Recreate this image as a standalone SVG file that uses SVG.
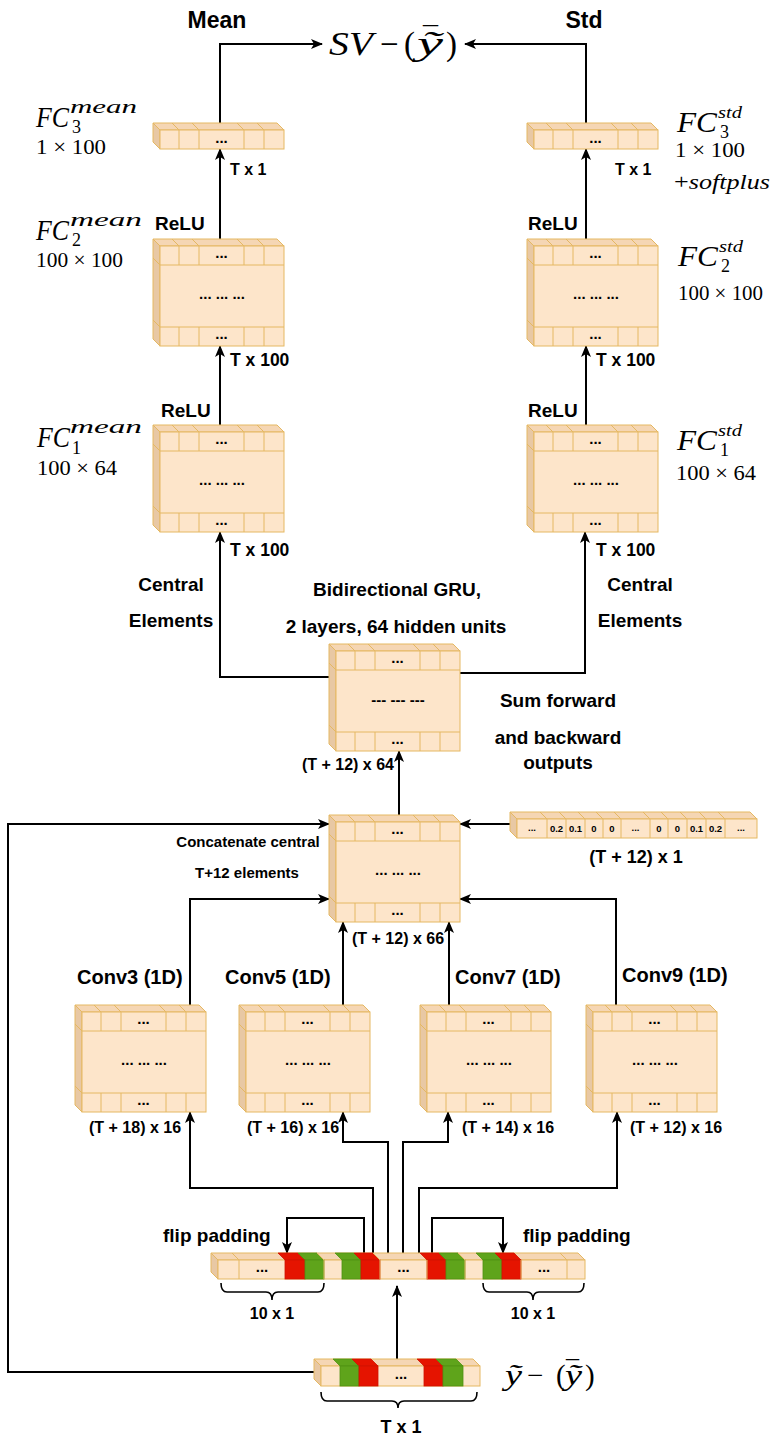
<svg xmlns="http://www.w3.org/2000/svg" width="770" height="1438" viewBox="0 0 770 1438">
<style>
  .t { font-family: "Liberation Sans", Arial, sans-serif; font-weight: 700; fill: #000; }
  .s23 { font-size: 23px; }
  .s19 { font-size: 19px; }
  .s17 { font-size: 17.5px; }
  .s16 { font-size: 16px; }
  .s15 { font-size: 15px; }
  .s18 { font-size: 18px; }
  .s20 { font-size: 20px; }
  .c { text-anchor: middle; }
  .dots { font-family: "Liberation Sans", Arial, sans-serif; font-weight: 700; font-size: 15px; text-anchor: middle; fill: #000; }
  .num { font-family: "Liberation Sans", Arial, sans-serif; font-weight: 700; font-size: 9.5px; text-anchor: middle; fill: #000; }
  .m { font-family: "Liberation Serif", "Times New Roman", serif; fill: #000; }
  .i { font-style: italic; }
  .front { fill: #FDE5CA; stroke: #E5B862; stroke-width: 1; }
  .topf { fill: #F5D6B4; stroke: #E5B862; stroke-width: 1; }
  .side { fill: #E8C8A4; stroke: #E5B862; stroke-width: 1; }
  .ln { fill: none; stroke: #E5B862; stroke-width: 1; }
  .red { fill: #E51400; stroke: #D01200; stroke-width: 0.8; }
  .green { fill: #5FA41B; stroke: #4F9212; stroke-width: 0.8; }
  .wire { fill: none; stroke: #000; stroke-width: 2; }
  .arr { marker-end: url(#ah); }
  .brace { fill: none; stroke: #000; stroke-width: 1.6; }
</style>
<defs>
  <marker id="ah" viewBox="0 0 12 10" refX="11" refY="5" markerWidth="12" markerHeight="10" markerUnits="userSpaceOnUse" orient="auto">
    <path d="M0,0 L12,5 L0,10 L3,5 z" fill="#000"/>
  </marker>
  <!-- 3D tensor block, 131 x 107, depth 7 -->
  <g id="cube-frame">
    <polygon class="topf" points="0,0 124,0 131,7 7,7"/>
    <polygon class="side" points="0,0 7,7 7,107 0,100"/>
    <rect class="front" x="7" y="7" width="124" height="100"/>
    <path class="ln" d="M7,26H131M7,88H131M26,7V26M46,7V26M91,7V26M111,7V26M26,88V107M46,88V107M91,88V107M111,88V107M19,0L26,7M39,0L46,7M84,0L91,7M104,0L111,7M0,19L7,26M0,81L7,88"/>
    <text class="dots" x="68.5" y="19">...</text>
    <text class="dots" x="68.5" y="100">...</text>
  </g>
  <g id="cube">
    <use href="#cube-frame"/>
    <text class="dots" x="69" y="60">... ... ...</text>
  </g>
  <!-- one-row block, 131 x 26 -->
  <g id="bar">
    <polygon class="topf" points="0,0 124,0 131,7 7,7"/>
    <polygon class="side" points="0,0 7,7 7,26 0,19"/>
    <rect class="front" x="7" y="7" width="124" height="19"/>
    <path class="ln" d="M26,7V26M46,7V26M91,7V26M111,7V26M19,0L26,7M39,0L46,7M84,0L91,7M104,0L111,7"/>
    <text class="dots" x="68.5" y="19.5">...</text>
  </g>
</defs>

<rect width="770" height="1438" fill="#fff"/>

<!-- connectors -->
<g id="connectors">
  <path class="wire arr" d="M220,123V44H322"/>
  <path class="wire arr" d="M586,123V44H465"/>
  <path class="wire arr" d="M220,239V149"/>
  <path class="wire arr" d="M586,239V149"/>
  <path class="wire arr" d="M220,425V346"/>
  <path class="wire arr" d="M586,425V346"/>
  <path class="wire arr" d="M329,677H220V532"/>
  <path class="wire arr" d="M460,673H585V532"/>
  <path class="wire arr" d="M399,815V751"/>
  <path class="wire arr" d="M314,1372H8V824H329"/>
  <path class="wire arr" d="M510,824H460"/>
  <path class="wire arr" d="M190,1005V899H329"/>
  <path class="wire arr" d="M343,1005V922"/>
  <path class="wire arr" d="M449,1005V922"/>
  <path class="wire arr" d="M616,1005V899H460"/>
  <path class="wire arr" d="M373,1253V1188H190V1112"/>
  <path class="wire arr" d="M388,1253V1142H343V1112"/>
  <path class="wire arr" d="M403,1253V1142H448V1112"/>
  <path class="wire arr" d="M419,1253V1188H617V1112"/>
  <path class="wire arr" d="M364,1253V1218H287V1253"/>
  <path class="wire arr" d="M432,1253V1218H503V1253"/>
  <path class="wire arr" d="M397,1359V1286"/>
</g>

<!-- output -->
<g id="output">
  <text class="t s23 c" x="217" y="28">Mean</text>
  <text class="t s23 c" x="584" y="28">Std</text>
  <text class="m" y="55" font-size="33"><tspan class="i" x="329" textLength="44" lengthAdjust="spacingAndGlyphs">SV</tspan><tspan x="380">−</tspan><tspan x="404">(</tspan><tspan class="i" x="417" textLength="26" lengthAdjust="spacingAndGlyphs">&#x1EF9;</tspan><tspan x="423" dy="-8" font-size="30">¯</tspan><tspan x="446" dy="8">)</tspan></text>
</g>

<!-- mean branch -->
<g id="fc3-mean">
  <use href="#bar" x="153" y="123"/>
  <text class="t s16" x="230" y="175">T x 1</text>
  <text class="m"><tspan class="i" x="36" y="127" font-size="30" textLength="33" lengthAdjust="spacingAndGlyphs">FC</tspan><tspan class="i" x="70" y="113" font-size="18" textLength="67" lengthAdjust="spacingAndGlyphs">mean</tspan><tspan x="72" y="133" font-size="18">3</tspan><tspan x="36" y="154" font-size="21" textLength="70" lengthAdjust="spacingAndGlyphs">1 × 100</tspan></text>
</g>
<g id="fc2-mean">
  <use href="#cube" x="153" y="239"/>
  <text class="t s19" x="155" y="230">ReLU</text>
  <text class="t s17" x="230" y="366">T x 100</text>
  <text class="m"><tspan class="i" x="36" y="240" font-size="30" textLength="33" lengthAdjust="spacingAndGlyphs">FC</tspan><tspan class="i" x="70" y="226" font-size="18" textLength="72" lengthAdjust="spacingAndGlyphs">mean</tspan><tspan x="72" y="246" font-size="18">2</tspan><tspan x="36" y="267" font-size="21" textLength="87" lengthAdjust="spacingAndGlyphs">100 × 100</tspan></text>
</g>
<g id="fc1-mean">
  <use href="#cube" x="153" y="425"/>
  <text class="t s19" x="161" y="417">ReLU</text>
  <text class="t s17" x="230" y="556">T x 100</text>
  <text class="m"><tspan class="i" x="37" y="447" font-size="30" textLength="33" lengthAdjust="spacingAndGlyphs">FC</tspan><tspan class="i" x="70" y="433" font-size="18" textLength="72" lengthAdjust="spacingAndGlyphs">mean</tspan><tspan x="72" y="454" font-size="18">1</tspan><tspan x="37" y="475" font-size="21" textLength="80" lengthAdjust="spacingAndGlyphs">100 × 64</tspan></text>
</g>

<!-- std branch -->
<g id="fc3-std">
  <use href="#bar" x="527" y="123"/>
  <text class="t s16" x="615" y="175">T x 1</text>
  <text class="m"><tspan class="i" x="677" y="132" font-size="30" textLength="40" lengthAdjust="spacingAndGlyphs">FC</tspan><tspan class="i" x="718" y="118" font-size="17" textLength="24" lengthAdjust="spacingAndGlyphs">std</tspan><tspan x="720" y="138" font-size="18">3</tspan><tspan x="675" y="157" font-size="21" textLength="70" lengthAdjust="spacingAndGlyphs">1 × 100</tspan><tspan x="674" y="189" font-size="21" textLength="96" lengthAdjust="spacingAndGlyphs">+<tspan class="i">softplus</tspan></tspan></text>
</g>
<g id="fc2-std">
  <use href="#cube" x="527" y="239"/>
  <text class="t s19" x="528" y="230">ReLU</text>
  <text class="t s17" x="596" y="366">T x 100</text>
  <text class="m"><tspan class="i" x="678" y="266" font-size="30" textLength="40" lengthAdjust="spacingAndGlyphs">FC</tspan><tspan class="i" x="719" y="252" font-size="17" textLength="24" lengthAdjust="spacingAndGlyphs">std</tspan><tspan x="721" y="272" font-size="18">2</tspan><tspan x="678" y="300" font-size="21" textLength="85" lengthAdjust="spacingAndGlyphs">100 × 100</tspan></text>
</g>
<g id="fc1-std">
  <use href="#cube" x="527" y="425"/>
  <text class="t s19" x="528" y="417">ReLU</text>
  <text class="t s17" x="596" y="556">T x 100</text>
  <text class="m"><tspan class="i" x="677" y="450" font-size="30" textLength="40" lengthAdjust="spacingAndGlyphs">FC</tspan><tspan class="i" x="718" y="436" font-size="17" textLength="24" lengthAdjust="spacingAndGlyphs">std</tspan><tspan x="720" y="456" font-size="18">1</tspan><tspan x="676" y="480" font-size="21" textLength="80" lengthAdjust="spacingAndGlyphs">100 × 64</tspan></text>
</g>

<!-- recurrent layer -->
<g id="gru">
  <use href="#cube-frame" x="329" y="644"/>
  <text class="dots" x="398" y="705">--- --- ---</text>
  <text class="t s19 c" x="171" y="591">Central</text>
  <text class="t s19 c" x="171" y="627">Elements</text>
  <text class="t s19 c" x="640" y="591">Central</text>
  <text class="t s19 c" x="640" y="627">Elements</text>
  <text class="t s19 c" x="397" y="596">Bidirectional GRU,</text>
  <text class="t s19 c" x="396" y="633">2 layers, 64 hidden units</text>
  <text class="t s19 c" x="558" y="707">Sum forward</text>
  <text class="t s19 c" x="558" y="744">and backward</text>
  <text class="t s19 c" x="558" y="769">outputs</text>
  <text class="t s16" x="394" y="770" text-anchor="end">(T + 12) x 64</text>
</g>

<!-- concatenation -->
<g id="concat">
  <use href="#cube" x="329" y="815"/>
  <text class="t s15 c" x="248" y="847">Concatenate central</text>
  <text class="t s15 c" x="247" y="878">T+12 elements</text>
  <text class="t s16" x="352" y="944">(T + 12) x 66</text>
</g>

<!-- weights vector -->
<g id="weights">
  <polygon class="topf" points="510,812 750,812 757,819 517,819"/>
  <polygon class="side" points="510,812 517,819 517,838 510,831"/>
  <rect class="front" x="517" y="819" width="240" height="19"/>
  <path class="ln" d="M547,819V838M566,819V838M585,819V838M603,819V838M621,819V838M650,819V838M668,819V838M687,819V838M706,819V838M725,819V838M540,812L547,819M559,812L566,819M578,812L585,819M596,812L603,819M614,812L621,819M643,812L650,819M661,812L668,819M680,812L687,819M699,812L706,819M718,812L725,819"/>
  <text class="num" x="532" y="831">...</text>
  <text class="num" x="556.5" y="832">0.2</text>
  <text class="num" x="575.5" y="832">0.1</text>
  <text class="num" x="594" y="832">0</text>
  <text class="num" x="612" y="832">0</text>
  <text class="num" x="635.5" y="831">...</text>
  <text class="num" x="659" y="832">0</text>
  <text class="num" x="677.5" y="832">0</text>
  <text class="num" x="696.5" y="832">0.1</text>
  <text class="num" x="715.5" y="832">0.2</text>
  <text class="num" x="741" y="831">...</text>
  <text class="t s18 c" x="636" y="863">(T + 12) x 1</text>
</g>

<!-- convolutions -->
<g id="conv3">
  <use href="#cube" x="75" y="1005"/>
  <text class="t s20" x="77" y="984">Conv3 (1D)</text>
  <text class="t s16" x="89" y="1133">(T + 18) x 16</text>
</g>
<g id="conv5">
  <use href="#cube" x="239" y="1005"/>
  <text class="t s20" x="225" y="984">Conv5 (1D)</text>
  <text class="t s16" x="247" y="1133">(T + 16) x 16</text>
</g>
<g id="conv7">
  <use href="#cube" x="420" y="1005"/>
  <text class="t s20" x="455" y="984">Conv7 (1D)</text>
  <text class="t s16" x="462" y="1133">(T + 14) x 16</text>
</g>
<g id="conv9">
  <use href="#cube" x="586" y="1005"/>
  <text class="t s20" x="622" y="982">Conv9 (1D)</text>
  <text class="t s16" x="630" y="1133">(T + 12) x 16</text>
</g>

<!-- flip-padded sequence -->
<g id="padded">
  <polygon class="topf" points="211,1253 578,1253 585,1260 218,1260"/>
  <polygon class="side" points="211,1253 218,1260 218,1279 211,1272"/>
  <rect class="front" x="218" y="1260" width="367" height="19"/>
  <polygon class="red" points="278,1253 298,1253 305,1260 285,1260"/>
  <polygon class="green" points="298,1253 317,1253 324,1260 305,1260"/>
  <polygon class="green" points="335,1253 354,1253 361,1260 342,1260"/>
  <polygon class="red" points="354,1253 373,1253 380,1260 361,1260"/>
  <polygon class="red" points="420,1253 439,1253 446,1260 427,1260"/>
  <polygon class="green" points="439,1253 458,1253 465,1260 446,1260"/>
  <polygon class="green" points="476,1253 495,1253 502,1260 483,1260"/>
  <polygon class="red" points="495,1253 514,1253 521,1260 502,1260"/>
  <rect class="red" x="285" y="1260" width="20" height="19"/>
  <rect class="green" x="305" y="1260" width="19" height="19"/>
  <rect class="green" x="342" y="1260" width="19" height="19"/>
  <rect class="red" x="361" y="1260" width="19" height="19"/>
  <rect class="red" x="427" y="1260" width="19" height="19"/>
  <rect class="green" x="446" y="1260" width="19" height="19"/>
  <rect class="green" x="483" y="1260" width="19" height="19"/>
  <rect class="red" x="502" y="1260" width="19" height="19"/>
  <path class="ln" d="M239,1260V1279M324,1260V1279M380,1260V1279M427,1260V1279M465,1260V1279M521,1260V1279M567,1260V1279M232,1253L239,1260M317,1253L324,1260M373,1253L380,1260M458,1253L465,1260M560,1253L567,1260"/>
  <text class="dots" x="262" y="1272">...</text>
  <text class="dots" x="403.5" y="1272">...</text>
  <text class="dots" x="544" y="1272">...</text>
  <text class="t s19" x="163" y="1242">flip padding</text>
  <text class="t s19" x="523" y="1242">flip padding</text>
  <path class="brace" d="M221,1283Q221,1292 227,1292H266Q272,1292 272,1300Q272,1292 278,1292H318Q324,1292 324,1283"/>
  <path class="brace" d="M483,1283Q483,1292 489,1292H527Q533,1292 533,1300Q533,1292 539,1292H578Q584,1292 584,1283"/>
  <text class="t s16 c" x="272" y="1319">10 x 1</text>
  <text class="t s16 c" x="533" y="1319">10 x 1</text>
</g>

<!-- input sequence -->
<g id="input">
  <polygon class="topf" points="314,1359 473,1359 480,1366 321,1366"/>
  <polygon class="side" points="314,1359 321,1366 321,1386 314,1379"/>
  <rect class="front" x="321" y="1366" width="159" height="20"/>
  <polygon class="green" points="333,1359 352,1359 359,1366 340,1366"/>
  <polygon class="red" points="352,1359 371,1359 378,1366 359,1366"/>
  <polygon class="red" points="417,1359 436,1359 443,1366 424,1366"/>
  <polygon class="green" points="436,1359 456,1359 463,1366 443,1366"/>
  <rect class="green" x="340" y="1366" width="19" height="20"/>
  <rect class="red" x="359" y="1366" width="19" height="20"/>
  <rect class="red" x="424" y="1366" width="19" height="20"/>
  <rect class="green" x="443" y="1366" width="20" height="20"/>
  <text class="dots" x="401" y="1379">...</text>
  <path class="brace" d="M321,1392Q321,1401 327,1401H392Q398,1401 398,1408Q398,1401 404,1401H471Q477,1401 477,1392"/>
  <text class="t s18 c" x="401" y="1433">T x 1</text>
  <text class="m" y="1385" font-size="29"><tspan class="i" x="505" textLength="17" lengthAdjust="spacingAndGlyphs">&#x1EF9;</tspan><tspan x="527">−</tspan><tspan x="556">(</tspan><tspan class="i" x="565" textLength="17" lengthAdjust="spacingAndGlyphs">&#x1EF9;</tspan><tspan x="566" dy="-7" font-size="26">¯</tspan><tspan x="585" dy="7">)</tspan></text>
</g>
</svg>
